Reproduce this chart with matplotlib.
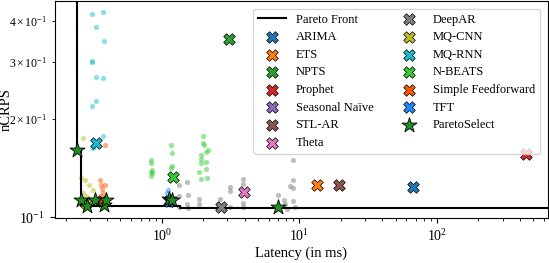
import numpy as np
import matplotlib
matplotlib.use('Agg')
import matplotlib.pyplot as plt

plt.rcParams['font.family'] = ['Liberation Serif', 'DejaVu Serif']
plt.rcParams['mathtext.fontset'] = 'stix'

# default configuration of every model (latency in ms, nCRPS)
models = ['ARIMA', 'ETS', 'NPTS', 'Prophet', 'Seasonal Naïve', 'STL-AR', 'Theta',
          'DeepAR', 'MQ-CNN', 'MQ-RNN', 'N-BEATS', 'Simple Feedforward', 'TFT']
default_latency = [67.3, 13.5, 3.07, 444, 0.15, 19.5, 3.97,
                   2.67, 0.28, 0.331, 1.21, 0.37, 1.12]
default_ncrps = [0.1236, 0.1254, 0.353, 0.156, 0.62, 0.1259, 0.1197,
                 0.1075, 0.111, 0.1686, 0.133, 0.112, 0.112]
colors = ['#1f77b4', '#ff7f0e', '#2ca02c', '#d62728', '#9467bd', '#8c564b', '#e377c2',
          '#7f7f7f', '#bcbd22', '#17becf', '#33cc33', '#ff5500', '#1e88ff']

# other hyperparameter configurations
deepar_lat = [1.336, 1.512, 1.336, 1.538, 1.512, 1.336, 1.538, 1.867, 1.86, 2.64,
              3.12, 3.12, 3.12, 3.88, 3.88, 3.88, 3.86, 9.02, 9.02, 9.02, 7.01,
              7.75, 7.8, 9.02, 9.27, 8.07, 8.5]
deepar_crps = [0.126, 0.128, 0.116, 0.1167, 0.110, 0.1078, 0.107, 0.114, 0.1095, 0.114,
               0.1236, 0.120, 0.1078, 0.131, 0.1266, 0.111, 0.1078, 0.150, 0.1304, 0.1231,
               0.1167, 0.1126, 0.1095, 0.112, 0.1078, 0.1063, 0.1245]
mqcnn_lat = [0.268, 0.258, 0.278, 0.297, 0.316, 0.268, 0.283, 0.297, 0.27, 0.29]
mqcnn_crps = [0.175, 0.132, 0.130, 0.126, 0.121, 0.119, 0.116, 0.115, 0.112, 0.110]
mqrnn_lat = [0.311, 0.374, 0.330, 0.380, 0.312, 0.312, 0.330, 0.372, 0.330, 0.311,
             0.372, 0.316]
mqrnn_crps = [0.421, 0.427, 0.384, 0.348, 0.302, 0.299, 0.269, 0.267, 0.228, 0.219,
              0.178, 0.163]
nbeats_lat = [0.828, 0.835, 0.846, 0.846, 0.840, 0.835, 1.163, 1.192, 1.192, 1.157,
              1.997, 1.977, 2.03, 2.15, 2.11, 1.912, 2.08, 1.92, 1.93, 2.09, 1.87,
              1.93, 2.12]
nbeats_crps = [0.150, 0.147, 0.140, 0.137, 0.1335, 0.138, 0.166, 0.157, 0.144, 0.142,
               0.178, 0.169, 0.166, 0.161, 0.158, 0.155, 0.148, 0.151, 0.147, 0.141,
               0.138, 0.131, 0.132]
sff_lat = [0.385, 0.358, 0.364, 0.385, 0.370, 0.374, 0.364, 0.370, 0.38]
sff_crps = [0.166, 0.130, 0.126, 0.126, 0.122, 0.119, 0.116, 0.113, 0.111]
tft_lat = [1.10, 1.082, 1.111, 1.13, 1.163]
tft_crps = [0.121, 0.1189, 0.1156, 0.1109, 0.1088]

# ParetoSelect picks
select_lat = [0.241, 0.2606, 0.287, 0.328, 0.3786, 0.3936, 1.13, 1.176, 6.98]
select_crps = [0.161, 0.1126, 0.1084, 0.1126, 0.1091, 0.1126, 0.1134, 0.1126, 0.1078]

# pareto front
front_lat = [0.241, 0.241, 0.258, 1.35, 8.1, 1000]
front_crps = [1.0, 0.161, 0.1082, 0.1070, 0.1065, 0.1065]

fig = plt.figure(figsize=(5.49, 2.63), dpi=100)
ax = fig.add_axes([0.100, 0.171, 0.898, 0.825])

configs = [(deepar_lat, deepar_crps, '#7f7f7f'), (mqcnn_lat, mqcnn_crps, '#bcbd22'),
           (mqrnn_lat, mqrnn_crps, '#17becf'), (nbeats_lat, nbeats_crps, '#33cc33'),
           (sff_lat, sff_crps, '#ff5500'), (tft_lat, tft_crps, '#1e88ff')]
for lx, ly, c in configs:
    ax.scatter(lx, ly, s=14, color=c, alpha=0.5, linewidths=0, zorder=2)

ax.plot(front_lat, front_crps, color='black', lw=1.5, drawstyle='steps-post',
        label='Pareto Front', zorder=3)

for name, lx, ly, c in zip(models, default_latency, default_ncrps, colors):
    ax.scatter([lx], [ly], marker='X', s=70, color=c, edgecolors='black',
               linewidths=0.5, label=name, zorder=4)

ax.scatter(select_lat, select_crps, marker='*', s=130, color='forestgreen',
           edgecolors='black', linewidths=0.6, label='ParetoSelect', zorder=5)

ax.set_xscale('log')
ax.set_yscale('log')
ax.set_xlim(0.167, 640)
ax.set_ylim(0.0995, 0.46)
ax.set_xlabel('Latency (in ms)', fontsize=10.5, labelpad=2)
ax.set_ylabel('nCRPS', fontsize=10.5)
ax.yaxis.set_label_coords(-0.085, 0.5)
ax.tick_params(labelsize=10)
ax.tick_params(which='minor', labelsize=8.5)

ax.legend(loc='upper right', ncol=2, fontsize=9, labelspacing=0.45,
          columnspacing=1.8, handlelength=2.2, borderaxespad=0.6)

plt.savefig('out.png', dpi=100)
